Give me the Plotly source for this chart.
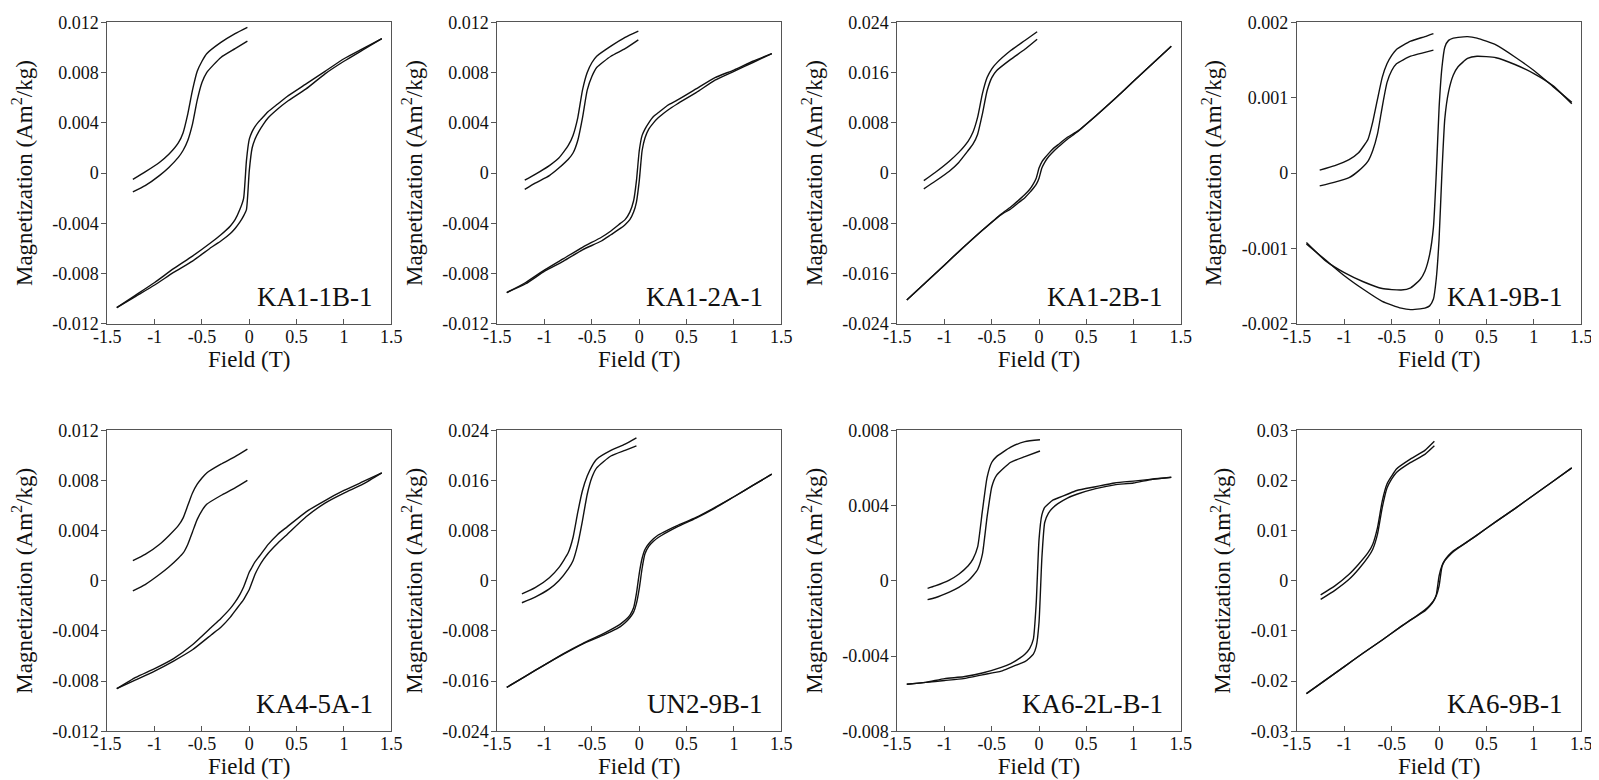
import plotly.graph_objects as go
from plotly.subplots import make_subplots

# shared field grid of the main loops (T)
FIELD = [-1.4, -1.2, -1.0, -0.8, -0.6, -0.4, -0.3, -0.2, -0.15, -0.1, -0.06, -0.03, 0.0,
         0.03, 0.06, 0.1, 0.15, 0.2, 0.3, 0.4, 0.6, 0.8, 1.0, 1.2, 1.4]

SAMPLES = ['KA1-1B-1', 'KA1-2A-1', 'KA1-2B-1', 'KA1-9B-1',
           'KA4-5A-1', 'UN2-9B-1', 'KA6-2L-B-1', 'KA6-9B-1']

# main loops: descending (upper) and ascending (lower) branch, Am2/kg
KA1_1B_UP = [-0.0107, -0.0097, -0.0087, -0.0076, -0.0066, -0.0055, -0.0049, -0.0042, -0.0037, -0.0029, -0.0020, 0.0010, 0.0027,
             0.0033, 0.0037, 0.0041, 0.0045, 0.0049, 0.0055, 0.0061, 0.0071, 0.0081, 0.0091, 0.0099, 0.0107]
KA1_1B_DN = [-0.0107, -0.0098, -0.0089, -0.0079, -0.0070, -0.0059, -0.0054, -0.0048, -0.0044, -0.0039, -0.0034, -0.0029, 0.0002,
             0.0020, 0.0027, 0.0033, 0.0039, 0.0044, 0.0051, 0.0057, 0.0067, 0.0079, 0.0089, 0.0098, 0.0107]
KA1_2A_UP = [-0.0095, -0.0087, -0.0077, -0.0068, -0.0059, -0.0051, -0.0046, -0.0040, -0.0037, -0.0031, -0.0022, -0.0006, 0.0018,
             0.0030, 0.0035, 0.0040, 0.0045, 0.0048, 0.0054, 0.0058, 0.0067, 0.0076, 0.0082, 0.0089, 0.0095]
KA1_2A_DN = [-0.0095, -0.0088, -0.0078, -0.0070, -0.0061, -0.0054, -0.0049, -0.0044, -0.0041, -0.0037, -0.0031, -0.0023, -0.0006,
             0.0018, 0.0028, 0.0035, 0.0040, 0.0044, 0.0050, 0.0055, 0.0064, 0.0074, 0.0081, 0.0088, 0.0095]
KA1_2B_UP = [-0.0202, -0.0174, -0.0146, -0.0118, -0.0091, -0.0065, -0.0054, -0.0041, -0.0034, -0.0026, -0.0017, -0.0008, 0.0008,
             0.0018, 0.0024, 0.0031, 0.0039, 0.0045, 0.0057, 0.0066, 0.0091, 0.0118, 0.0146, 0.0174, 0.0202]
KA1_2B_DN = [-0.0202, -0.0174, -0.0146, -0.0118, -0.0091, -0.0066, -0.0057, -0.0045, -0.0039, -0.0031, -0.0024, -0.0018, -0.0008,
             0.0008, 0.0017, 0.0026, 0.0034, 0.0041, 0.0054, 0.0065, 0.0091, 0.0118, 0.0146, 0.0174, 0.0202]
KA1_9B_UP = [-0.00092, -0.00116, -0.00132, -0.00144, -0.00153, -0.00155, -0.00152, -0.00141, -0.0013, -0.00108, -0.00072, -0.00001, 0.00087,
             0.0014, 0.00167, 0.00176, 0.00179, 0.0018, 0.00181, 0.00179, 0.0017, 0.00154, 0.00136, 0.00115, 0.00094]
KA1_9B_DN = [-0.00094, -0.00115, -0.00136, -0.00154, -0.0017, -0.00179, -0.00181, -0.0018, -0.00179, -0.00176, -0.00167, -0.0014, -0.00087,
             0.00001, 0.00072, 0.00108, 0.0013, 0.00141, 0.00152, 0.00155, 0.00153, 0.00144, 0.00132, 0.00116, 0.00092]
KA4_5A_UP = [-0.0086, -0.0077, -0.0070, -0.0062, -0.0051, -0.0037, -0.0030, -0.0022, -0.0017, -0.0011, -0.0005, 0.0001, 0.0007,
             0.0011, 0.0015, 0.0019, 0.0024, 0.0029, 0.0037, 0.0043, 0.0055, 0.0064, 0.0072, 0.0079, 0.0086]
KA4_5A_DN = [-0.0086, -0.0079, -0.0072, -0.0064, -0.0055, -0.0043, -0.0037, -0.0029, -0.0024, -0.0019, -0.0015, -0.0011, -0.0007,
             -0.0001, 0.0005, 0.0011, 0.0017, 0.0022, 0.0030, 0.0037, 0.0051, 0.0062, 0.0070, 0.0077, 0.0086]
UN2_9B_UP = [-0.0170, -0.0152, -0.0134, -0.0116, -0.0100, -0.0086, -0.0078, -0.0069, -0.0063, -0.0055, -0.0043, -0.0020, 0.0012,
             0.0036, 0.0050, 0.0059, 0.0067, 0.0073, 0.0081, 0.0088, 0.0101, 0.0117, 0.0134, 0.0152, 0.0170]
UN2_9B_DN = [-0.0170, -0.0152, -0.0134, -0.0117, -0.0101, -0.0088, -0.0081, -0.0073, -0.0067, -0.0059, -0.0050, -0.0036, -0.0012,
             0.0020, 0.0043, 0.0055, 0.0063, 0.0069, 0.0078, 0.0086, 0.0100, 0.0116, 0.0134, 0.0152, 0.0170]
KA6_2L_UP = [-0.0055, -0.0054, -0.0052, -0.0051, -0.0049, -0.0046, -0.0044, -0.0041, -0.0039, -0.0036, -0.0031, -0.0012, 0.0022,
             0.0035, 0.0039, 0.0041, 0.0043, 0.0044, 0.0046, 0.0048, 0.0050, 0.0052, 0.0053, 0.0054, 0.0055]
KA6_2L_DN = [-0.0055, -0.0054, -0.0053, -0.0052, -0.0050, -0.0048, -0.0046, -0.0044, -0.0043, -0.0041, -0.0039, -0.0035, -0.0022,
             0.0012, 0.0031, 0.0036, 0.0039, 0.0041, 0.0044, 0.0046, 0.0049, 0.0051, 0.0052, 0.0054, 0.0055]
KA6_9B_UP = [-0.0225, -0.0198, -0.0171, -0.0144, -0.0118, -0.0091, -0.0078, -0.0065, -0.0058, -0.0049, -0.0040, -0.0028, 0.0010,
             0.0030, 0.0041, 0.0051, 0.0060, 0.0066, 0.0078, 0.0091, 0.0118, 0.0144, 0.0171, 0.0198, 0.0225]
KA6_9B_DN = [-0.0225, -0.0198, -0.0171, -0.0144, -0.0118, -0.0091, -0.0078, -0.0066, -0.0060, -0.0051, -0.0041, -0.0030, -0.0010,
             0.0028, 0.0040, 0.0049, 0.0058, 0.0065, 0.0078, 0.0091, 0.0118, 0.0144, 0.0171, 0.0198, 0.0225]

# small loops drawn in the upper left corner of each panel (axis units)
KA1_1B_IN_H = [-1.23, -1.1, -0.95, -0.85, -0.75, -0.7, -0.65, -0.6, -0.55, -0.5, -0.45, -0.3, -0.15, -0.02]
KA1_1B_IN_UP = [-0.0005, 0.0001, 0.00085, 0.0015, 0.0024, 0.0032, 0.0047, 0.0066, 0.0081, 0.0089, 0.0095, 0.0104, 0.0111, 0.0116]
KA1_1B_IN_DN = [-0.0015, -0.0010, -0.0002, 0.00045, 0.00125, 0.0018, 0.0026, 0.0039, 0.0058, 0.0072, 0.0080, 0.0092, 0.0099, 0.0105]
KA1_2A_IN_H = [-1.21, -1.1, -0.95, -0.85, -0.75, -0.7, -0.65, -0.6, -0.55, -0.5, -0.45, -0.3, -0.15, -0.01]
KA1_2A_IN_UP = [-0.00056, -0.0001, 0.0006, 0.0012, 0.0022, 0.0030, 0.0044, 0.0066, 0.0080, 0.0088, 0.0093, 0.0101, 0.0108, 0.0113]
KA1_2A_IN_DN = [-0.0013, -0.0008, -0.0002, 0.0004, 0.0011, 0.0016, 0.0026, 0.0044, 0.0066, 0.0077, 0.0084, 0.0093, 0.0099, 0.0106]
KA1_2B_IN_H = [-1.22, -1.1, -0.95, -0.85, -0.75, -0.7, -0.65, -0.6, -0.55, -0.5, -0.45, -0.3, -0.15, -0.02]
KA1_2B_IN_UP = [-0.0012, 0.0001, 0.0019, 0.0033, 0.0051, 0.0065, 0.0089, 0.0126, 0.0152, 0.0166, 0.0175, 0.0195, 0.0211, 0.0225]
KA1_2B_IN_DN = [-0.0025, -0.0013, 0.0003, 0.0017, 0.0036, 0.0046, 0.0062, 0.0094, 0.0131, 0.0152, 0.0163, 0.0181, 0.0197, 0.0213]
KA1_9B_IN_H = [-1.26, -1.1, -0.95, -0.85, -0.75, -0.7, -0.65, -0.6, -0.55, -0.5, -0.45, -0.3, -0.15, -0.06]
KA1_9B_IN_UP = [0.00004, 0.0001, 0.00018, 0.00027, 0.00045, 0.00068, 0.00098, 0.00127, 0.00145, 0.00156, 0.00164, 0.00175, 0.00181, 0.00185]
KA1_9B_IN_DN = [-0.00017, -0.00012, -0.00006, 0.00003, 0.00016, 0.0003, 0.00052, 0.00088, 0.0012, 0.00136, 0.00145, 0.00155, 0.0016, 0.00163]
KA4_5A_IN_H = [-1.23, -1.1, -0.95, -0.85, -0.75, -0.7, -0.65, -0.6, -0.55, -0.5, -0.45, -0.3, -0.15, -0.02]
KA4_5A_IN_UP = [0.0016, 0.0021, 0.0029, 0.0036, 0.0044, 0.0050, 0.0060, 0.0070, 0.0077, 0.0082, 0.0086, 0.0093, 0.0099, 0.0105]
KA4_5A_IN_DN = [-0.0008, -0.0003, 0.0005, 0.0011, 0.0018, 0.0022, 0.0029, 0.0039, 0.0049, 0.0056, 0.0061, 0.0068, 0.0074, 0.0080]
UN2_9B_IN_H = [-1.24, -1.1, -0.95, -0.85, -0.75, -0.7, -0.65, -0.6, -0.55, -0.5, -0.45, -0.3, -0.15, -0.03]
UN2_9B_IN_UP = [-0.0021, -0.0011, 0.0005, 0.0021, 0.0045, 0.0069, 0.0109, 0.0144, 0.0167, 0.0183, 0.0194, 0.0208, 0.0218, 0.0228]
UN2_9B_IN_DN = [-0.0035, -0.0026, -0.0013, 0.0000, 0.0019, 0.0032, 0.0058, 0.0096, 0.0138, 0.0165, 0.0180, 0.0199, 0.0208, 0.0215]
KA6_2L_IN_H = [-1.18, -1.1, -0.95, -0.85, -0.75, -0.7, -0.65, -0.6, -0.55, -0.5, -0.45, -0.3, -0.15, 0.01]
KA6_2L_IN_UP = [-0.0004, -0.00027, 0.00004, 0.00035, 0.0008, 0.00115, 0.0018, 0.0037, 0.0055, 0.0063, 0.0066, 0.0071, 0.0074, 0.0075]
KA6_2L_IN_DN = [-0.0010, -0.0009, -0.0006, -0.00035, 0.0000, 0.00027, 0.0006, 0.0014, 0.0034, 0.0050, 0.0056, 0.0063, 0.0066, 0.0069]
KA6_9B_IN_H = [-1.25, -1.1, -0.95, -0.85, -0.75, -0.7, -0.65, -0.6, -0.55, -0.5, -0.45, -0.3, -0.15, -0.05]
KA6_9B_IN_UP = [-0.0028, -0.0010, 0.0013, 0.0033, 0.0056, 0.0073, 0.0106, 0.0159, 0.0193, 0.0209, 0.0223, 0.0243, 0.0260, 0.0278]
KA6_9B_IN_DN = [-0.0037, -0.0019, 0.0003, 0.0023, 0.0047, 0.0063, 0.0093, 0.0146, 0.0185, 0.0203, 0.0216, 0.0236, 0.0252, 0.0269]

MAIN_UP = [KA1_1B_UP, KA1_2A_UP, KA1_2B_UP, KA1_9B_UP, KA4_5A_UP, UN2_9B_UP, KA6_2L_UP, KA6_9B_UP]
MAIN_DN = [KA1_1B_DN, KA1_2A_DN, KA1_2B_DN, KA1_9B_DN, KA4_5A_DN, UN2_9B_DN, KA6_2L_DN, KA6_9B_DN]
INSET_H = [KA1_1B_IN_H, KA1_2A_IN_H, KA1_2B_IN_H, KA1_9B_IN_H, KA4_5A_IN_H, UN2_9B_IN_H, KA6_2L_IN_H, KA6_9B_IN_H]
INSET_UP = [KA1_1B_IN_UP, KA1_2A_IN_UP, KA1_2B_IN_UP, KA1_9B_IN_UP, KA4_5A_IN_UP, UN2_9B_IN_UP, KA6_2L_IN_UP, KA6_9B_IN_UP]
INSET_DN = [KA1_1B_IN_DN, KA1_2A_IN_DN, KA1_2B_IN_DN, KA1_9B_IN_DN, KA4_5A_IN_DN, UN2_9B_IN_DN, KA6_2L_IN_DN, KA6_9B_IN_DN]

# tick labels
X_TICKS = [-1.5, -1, -0.5, 0, 0.5, 1, 1.5]
X_LABELS = ['-1.5', '-1', '-0.5', '0', '0.5', '1', '1.5']
Y_012 = ['-0.012', '-0.008', '-0.004', '0', '0.004', '0.008', '0.012']
Y_024 = ['-0.024', '-0.016', '-0.008', '0', '0.008', '0.016', '0.024']
Y_002 = ['-0.002', '-0.001', '0', '0.001', '0.002']
Y_008 = ['-0.008', '-0.004', '0', '0.004', '0.008']
Y_03 = ['-0.03', '-0.02', '-0.01', '0', '0.01', '0.02', '0.03']
Y_LABELS = [Y_012, Y_012, Y_024, Y_002, Y_012, Y_024, Y_008, Y_03]

FONT = "'Times New Roman', 'Liberation Serif', serif"
INK = '#111111'
FRAME = '#555555'

# plot-area positions in paper fractions
COL_X = [(0.0621, 0.2397), (0.3060, 0.4836), (0.5562, 0.7334), (0.8061, 0.9839)]
ROW_Y = [(0.5949, 0.9817), (0.0727, 0.4586)]

fig = make_subplots(rows=2, cols=4)

for i, name in enumerate(SAMPLES):
    r, c = divmod(i, 4)
    for xs, ys in [(FIELD, MAIN_UP[i]), (FIELD, MAIN_DN[i]),
                   (INSET_H[i], INSET_UP[i]), (INSET_H[i], INSET_DN[i])]:
        fig.add_trace(go.Scatter(x=xs, y=ys, mode='lines',
                                 line=dict(color=INK, width=1.4, shape='spline', smoothing=0.5),
                                 hoverinfo='skip', showlegend=False),
                      row=r + 1, col=c + 1)

    yvals = [float(v) for v in Y_LABELS[i]]
    suffix = '' if i == 0 else str(i + 1)
    fig.update_layout({
        'xaxis' + suffix: dict(domain=list(COL_X[c]), range=[-1.5, 1.5], automargin=False,
                               tickvals=X_TICKS, ticktext=X_LABELS,
                               ticks='inside', ticklen=5, tickcolor=FRAME,
                               ticklabelstandoff=-4,
                               showline=True, mirror=True, linecolor=FRAME, linewidth=1,
                               showgrid=False, zeroline=False,
                               title=dict(text='Field (T)', standoff=4,
                                          font=dict(size=23, color=INK, family=FONT)),
                               tickfont=dict(size=18, color=INK, family=FONT)),
        'yaxis' + suffix: dict(domain=list(ROW_Y[r]), range=[yvals[0], yvals[-1]], automargin=False,
                               tickvals=yvals, ticktext=Y_LABELS[i],
                               ticks='outside', ticklen=5, tickcolor=FRAME,
                               ticklabelstandoff=-1,
                               showline=True, mirror=True, linecolor=FRAME, linewidth=1,
                               showgrid=False, zeroline=False,
                               title=dict(text='Magnetization (Am<sup>2</sup>/kg)', standoff=13,
                                          font=dict(size=23, color=INK, family=FONT)),
                               tickfont=dict(size=18, color=INK, family=FONT)),
    })
    fig.add_annotation(text=name, xref='x' + suffix + ' domain', yref='y' + suffix + ' domain',
                       x=1, y=0, xanchor='right', yanchor='middle', xshift=-16, yshift=27,
                       showarrow=False, font=dict(size=27, color=INK, family=FONT))

fig.update_layout(width=1599, height=780, autosize=False,
                  margin=dict(l=0, r=0, t=0, b=0, pad=0),
                  paper_bgcolor='white', plot_bgcolor='white',
                  font=dict(family=FONT, color=INK))

fig.write_html("out.html")
